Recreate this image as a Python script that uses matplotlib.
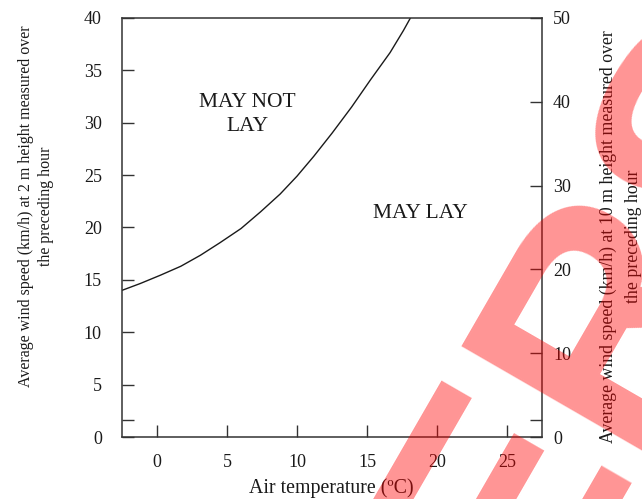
import matplotlib
matplotlib.use("Agg")
import matplotlib.pyplot as plt

# boundary between "may lay" and "may not lay"
temperature = [-2.5, -1.2, 0.25, 1.7, 3.1, 4.5, 6.0, 7.4, 8.8, 10.0,
               11.2, 12.5, 13.9, 15.25, 16.65, 17.6, 18.1]
wind_2m = [14.0, 14.65, 15.45, 16.3, 17.35, 18.55, 19.9, 21.5, 23.2, 24.9,
           26.8, 29.0, 31.5, 34.1, 36.7, 38.8, 40.0]

x_ticks = [0, 5, 10, 15, 20, 25]
left_ticks = [0, 5, 10, 15, 20, 25, 30, 35, 40]
right_ticks = [0, 10, 20, 30, 40, 50]

serif = ["Liberation Serif", "DejaVu Serif"]
plt.rcParams["font.family"] = serif
ink = "#1a1a1a"

fig = plt.figure(figsize=(6.42, 4.99), dpi=100)
ax = fig.add_axes([122 / 642, 1 - 437 / 499, 420 / 642, 419 / 499])

ax.plot(temperature, wind_2m, color=ink, lw=1.0)

ax.set_xlim(-2.5, 27.5)
ax.set_ylim(0, 40)
ax.set_xticks(x_ticks)
ax.set_yticks(left_ticks + [1.6])
ax.set_yticklabels([str(t) for t in left_ticks] + [""])
ax.tick_params(axis="both", direction="in", length=8.5, width=1.0,
               colors="#333333", labelcolor=ink, labelsize=13)
ax.tick_params(axis="y", pad=14.5)
ax.tick_params(axis="x", pad=12.5)
for s in ax.spines.values():
    s.set_color("#333333")
    s.set_linewidth(1.1)

ax2 = ax.twinx()
ax2.set_ylim(0, 50)
ax2.set_yticks(right_ticks + [2])
ax2.set_yticklabels([str(t) for t in right_ticks] + [""])
ax2.tick_params(axis="y", direction="in", length=8.5, width=1.0,
                colors="#333333", labelcolor=ink, labelsize=13, pad=8)
for s in ax2.spines.values():
    s.set_visible(False)

ax.text(6.45, 30.8, "MAY NOT\nLAY", ha="center", va="center",
        fontsize=15.5, color=ink, linespacing=1.4)
ax.text(18.8, 21.35, "MAY LAY", ha="center", va="center",
        fontsize=15.5, color=ink)

fig.text(331 / 642, 1 - 488 / 499, "Air temperature (ºC)", ha="center",
         va="center", fontsize=14.3, color=ink)
fig.text(36 / 642, 1 - 206 / 499,
         "Average wind speed (km/h) at 2 m height measured over\nthe preceding hour",
         rotation=90, ha="center", va="center", multialignment="center",
         fontsize=11.5, color=ink, linespacing=1.35)
fig.text(620.5 / 642, 1 - 236.5 / 499,
         "Average wind speed (km/h) at 10 m height measured over\nthe preceding hour",
         rotation=90, ha="center", va="center", multialignment="center",
         fontsize=12.8, color=ink, linespacing=1.6)

# watermark across the page
fig.text(748 / 642, 1 - 266.6 / 499, "SUPERSEDED", rotation=60,
         rotation_mode="anchor", ha="center", va="baseline",
         fontsize=226, fontfamily="Liberation Sans", fontweight="bold",
         color="red", alpha=0.42, zorder=10)

fig.savefig("out.png", dpi=100)
